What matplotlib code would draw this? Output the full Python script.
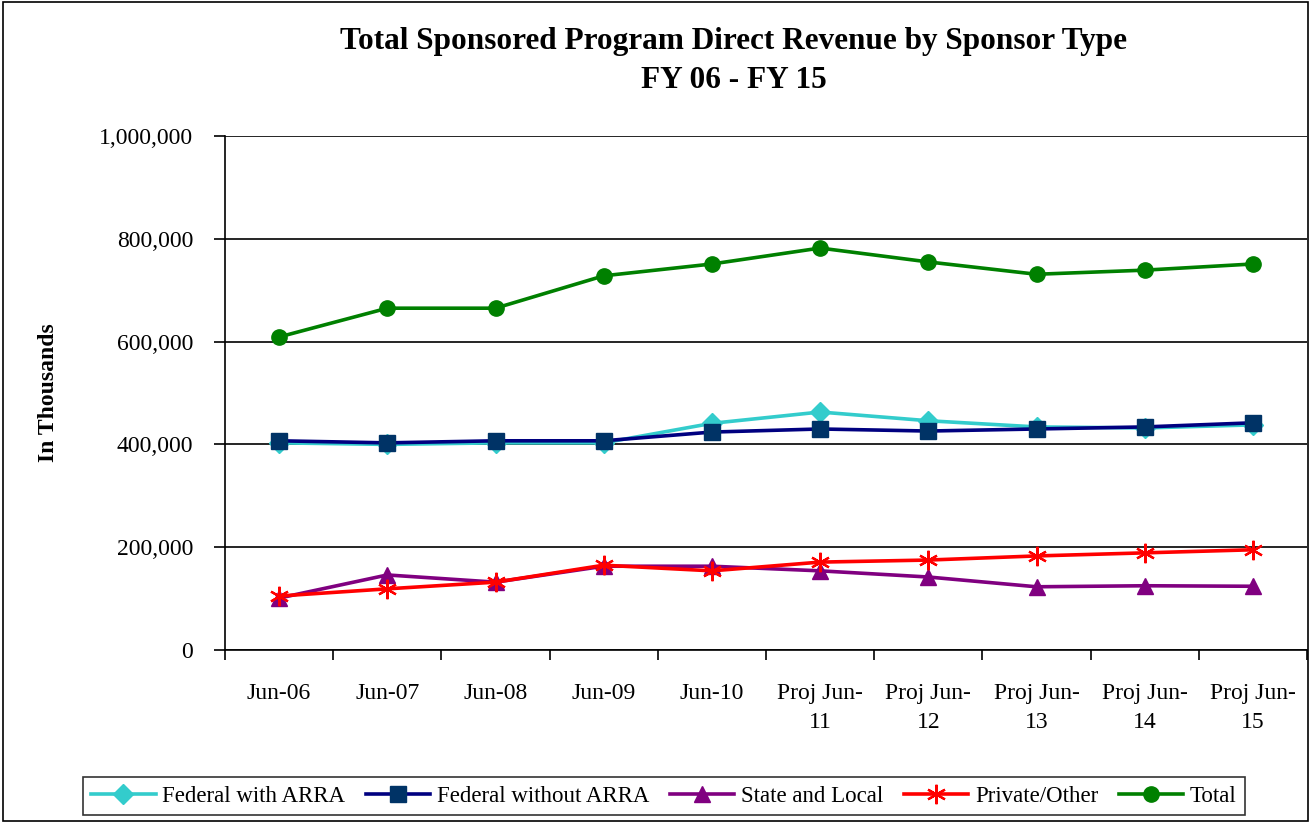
import matplotlib.pyplot as plt
import numpy as np

plt.rcParams['font.family'] = ['Liberation Serif', 'DejaVu Serif']

categorias = ["Jun-06", "Jun-07", "Jun-08", "Jun-09", "Jun-10",
              "Proj Jun-\n11", "Proj Jun-\n12", "Proj Jun-\n13", "Proj Jun-\n14", "Proj Jun-\n15"]

federal_con_arra = [403000, 400000, 403000, 403000, 441000, 463000, 446000, 434000, 432000, 438000]
federal_sin_arra = [407000, 403000, 407000, 407000, 424000, 430000, 426000, 430000, 434000, 442000]
estatal_local = [101000, 146000, 132000, 163000, 163000, 154000, 142000, 123000, 125000, 124000]
privado_otro = [105000, 119000, 132000, 165000, 154000, 171000, 175000, 183000, 189000, 195000]
total = [609000, 665000, 665000, 728000, 751000, 782000, 755000, 731000, 739000, 751000]

fig = plt.figure(figsize=(13.11, 8.23), dpi=100)
ax = fig.add_axes([225 / 1311, 1 - 650 / 823, 1082 / 1311, 514 / 823])

x = np.arange(len(categorias))
lw = 2.6
ax.plot(x, federal_con_arra, color="#33CCCC", lw=lw, marker="D", ms=10, mfc="#33CCCC", mec="#33CCCC",
        label="Federal with ARRA", zorder=3)
ax.plot(x, federal_sin_arra, color="#000080", lw=lw, marker="s", ms=11, mfc="#003366", mec="#003366",
        label="Federal without ARRA", zorder=4)
ax.plot(x, estatal_local, color="#800080", lw=lw, marker="^", ms=12, mfc="#800080", mec="#800080",
        label="State and Local", zorder=3)
ax.plot(x, privado_otro, color="#FF0000", lw=lw, marker=(6, 2, 0), ms=14, mew=1.6, mec="#FF0000",
        label="Private/Other", zorder=4)
ax.plot(x, total, color="#008000", lw=lw, marker="o", ms=11, mfc="#008000", mec="#008000",
        label="Total", zorder=3)

ax.set_xlim(-0.5, len(categorias) - 0.5)
ax.set_ylim(0, 1000000)
ax.set_yticks(np.arange(0, 1000001, 200000))
ax.set_yticklabels(["{:,}".format(v) for v in range(0, 1000001, 200000)], fontsize=17)
ax.yaxis.grid(True, color="black", lw=1.2)
ax.set_axisbelow(True)

# ticks en los bordes de categoria, etiquetas centradas
ax.set_xticks(np.arange(-0.5, len(categorias), 1))
ax.set_xticklabels([])
ax.set_xticks(x, minor=True)
ax.set_xticklabels(categorias, minor=True, fontsize=17, linespacing=1.45)
ax.tick_params(axis="x", which="minor", length=0, pad=24)
ax.tick_params(axis="x", which="major", length=7, width=1.2, direction="out")
ax.tick_params(axis="y", length=8, width=1.2, direction="out", pad=15)

ax.spines["top"].set_visible(False)
ax.spines["right"].set_visible(False)
ax.spines["left"].set_linewidth(1.2)
ax.spines["bottom"].set_linewidth(1.2)

ax.set_ylabel("In Thousands", fontsize=17, fontweight="bold")
ax.yaxis.set_label_coords((59 - 225) / 1082, 0.5)

fig.text(734 / 1311, 1 - 41 / 823, "Total Sponsored Program Direct Revenue by Sponsor Type",
         ha="center", va="center", fontsize=22.5, fontweight="bold")
fig.text(734 / 1311, 1 - 80 / 823, "FY 06 - FY 15",
         ha="center", va="center", fontsize=22.5, fontweight="bold")

leg = fig.legend(loc="center", bbox_to_anchor=(664 / 1311, 1 - 796 / 823), ncol=5, fontsize=16.5,
                 frameon=True, fancybox=False, edgecolor="black", handlelength=2.8,
                 columnspacing=0.9, handletextpad=0.3, borderpad=0.35)
leg.get_frame().set_linewidth(1.2)

fig.patches.append(plt.Rectangle((0.002, 0.002), 0.996, 0.996, transform=fig.transFigure,
                                 fill=False, edgecolor="black", lw=1.2))

fig.savefig("out.png", dpi=100)
